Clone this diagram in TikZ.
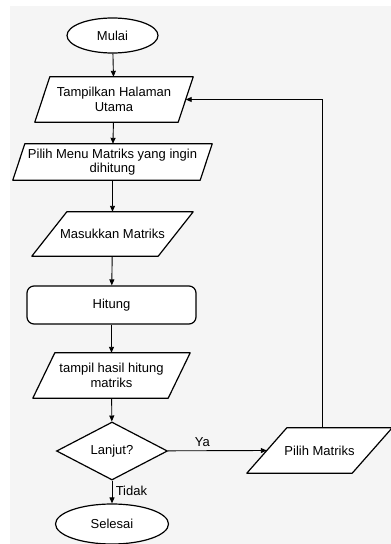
\documentclass[tikz,border=0pt]{standalone}
\usepackage{fontspec}
\setmainfont{Liberation Sans}
\usetikzlibrary{shapes.geometric, arrows.meta}

\pgfdeclarelayer{back}
\pgfdeclarelayer{shapes}
\pgfsetlayers{back,shapes,main}

\tikzset{
  outline/.style={draw, line width=1.2pt, fill=white},
  terminal/.style={ellipse, outline, inner sep=0pt},
  io/.style={rectangle, align=center, inner sep=0pt},
  process/.style={rectangle, rounded corners=7pt, outline, inner sep=0pt},
  decision/.style={diamond, aspect=1.9, outline, inner sep=0pt},
  flow/.style={line width=0.9pt, -{Triangle[length=6pt,width=5pt]}}
}
% parallelogram behind an io node: #1 node name, #2 slant
\newcommand{\jajar}[2]{\draw[outline, line join=round]
  ([xshift=#2]#1.north west) -- (#1.north east) -- ([xshift=-#2]#1.south east)
  -- (#1.south west) -- cycle;}

\begin{document}
\begin{tikzpicture}[x=1pt, y=-1pt, font=\fontsize{13}{14.5}\selectfont]
    \useasboundingbox (0,0) rectangle (391,544);
    \begin{pgfonlayer}{back}
      \fill[black!4] (10,6) rectangle (391,544);
    \end{pgfonlayer}
    % main column
    \node[terminal, minimum width=91, minimum height=35] (mulai) at (112.5,35.5) {Mulai};
    \node[io, minimum width=158, minimum height=45] (tampil) at (114,99.5) {Tampilkan Halaman\\Utama};
    \node[io, minimum width=199, minimum height=36] (menu) at (112.5,162) {Pilih Menu Matriks yang ingin\\dihitung};
    \node[io, minimum width=161, minimum height=44] (masuk) at (112.5,234) {Masukkan Matriks};
    \node[process, minimum width=169, minimum height=38] (hitung) at (111.5,305) {Hitung};
    \node[io, minimum width=157, minimum height=45] (hasil) at (111.5,375.5) {tampil hasil hitung\\matriks};
    \node[decision, minimum width=111, minimum height=58] (lanjut) at (112,451) {Lanjut?};
    \node[terminal, minimum width=113, minimum height=40] (selesai) at (112,524) {Selesai};
    %\\
    \node[io, minimum width=145, minimum height=45] (pilih) at (319.5,450.5) {Pilih Matriks};
    \begin{pgfonlayer}{shapes}
      \jajar{tampil}{15}
      \jajar{menu}{12}
      \jajar{masuk}{35}
      \jajar{hasil}{22}
      \jajar{pilih}{40}
    \end{pgfonlayer}
    \coordinate (balik) at ([xshift=-7.5]tampil.east);
    %\\
    \draw[flow] (mulai) -- (tampil);
    \draw[flow] (tampil) -- (menu);
    \draw[flow] (menu) -- (masuk);
    \draw[flow] (masuk) -- (hitung);
    \draw[flow] (hitung) -- (hasil);
    \draw[flow] (hasil) -- (lanjut);
    \draw[flow] (lanjut) -- node[pos=0.35, above] {Ya} ([xshift=20]pilih.west);
    \draw[flow] (lanjut) -- node[pos=0.45, right] {Tidak} (selesai);
    \draw[flow] ([xshift=3]pilih.north) |- (balik);
\end{tikzpicture}
\end{document}
